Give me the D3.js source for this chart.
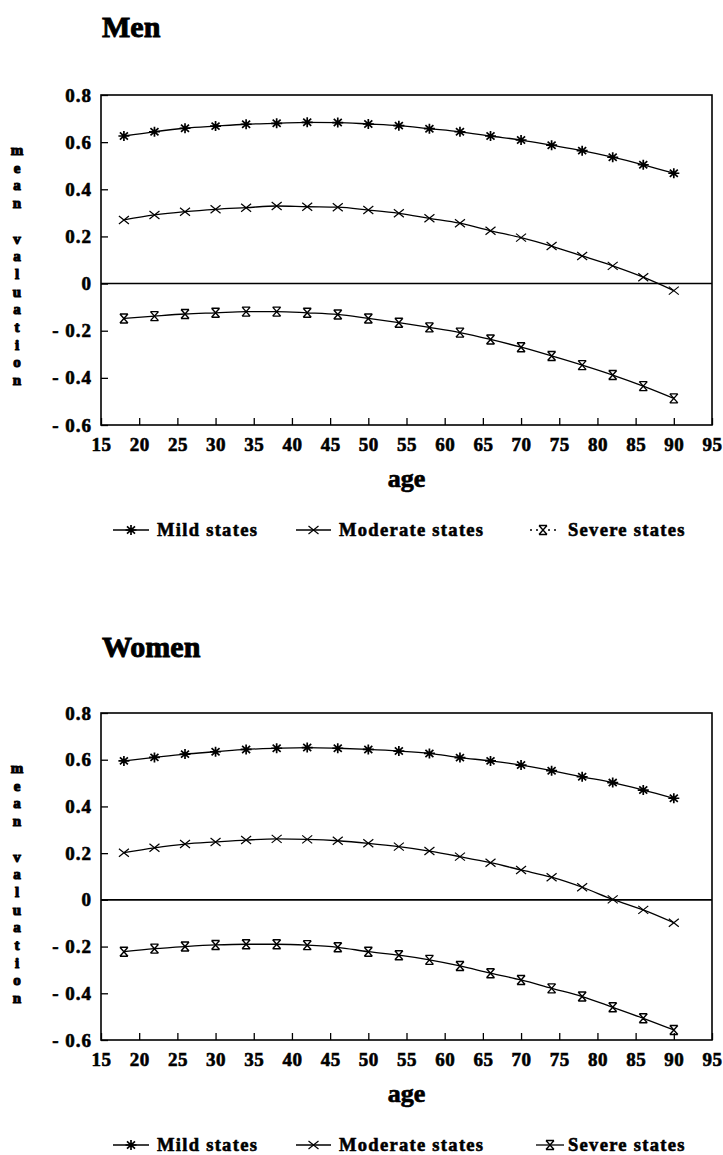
<!DOCTYPE html>
<html><head><meta charset="utf-8">
<script src="https://cdn.jsdelivr.net/npm/d3@7/dist/d3.min.js"></script>
<style>
html,body{margin:0;padding:0;background:#fff;}
svg{display:block;}
</style></head>
<body>
<svg id="chart" width="723" height="1155"></svg>
<script>
// ---- data ----
const ages = [18,22,26,30,34,38,42,46,50,54,58,62,66,70,74,78,82,86,90];
const menMild     = [0.626,0.644,0.659,0.668,0.676,0.680,0.684,0.683,0.677,0.670,0.657,0.644,0.626,0.609,0.587,0.564,0.536,0.504,0.468];
const menModerate = [0.270,0.291,0.305,0.315,0.322,0.329,0.326,0.324,0.312,0.298,0.277,0.256,0.224,0.195,0.159,0.117,0.075,0.027,-0.030];
const menSevere   = [-0.148,-0.138,-0.129,-0.124,-0.119,-0.119,-0.124,-0.131,-0.148,-0.166,-0.186,-0.208,-0.237,-0.270,-0.307,-0.346,-0.388,-0.435,-0.487];
const womenMild     = [0.595,0.610,0.624,0.634,0.644,0.649,0.652,0.649,0.644,0.637,0.627,0.609,0.595,0.577,0.553,0.527,0.502,0.470,0.435];
const womenModerate = [0.202,0.223,0.239,0.248,0.256,0.261,0.259,0.253,0.242,0.228,0.209,0.185,0.159,0.128,0.097,0.054,0.002,-0.043,-0.098];
const womenSevere   = [-0.222,-0.209,-0.200,-0.193,-0.190,-0.190,-0.194,-0.203,-0.222,-0.237,-0.257,-0.283,-0.314,-0.343,-0.379,-0.414,-0.460,-0.507,-0.557];
const xTickValues = [15,20,25,30,35,40,45,50,55,60,65,70,75,80,85,90,95];
const yTickValues = [0.8,0.6,0.4,0.2,0,-0.2,-0.4,-0.6];
const yTickLabels = ["0.8","0.6","0.4","0.2","0","- 0.2","- 0.4","- 0.6"];
const seriesNames = ["Mild states","Moderate states","Severe states"];
const yAxisTitle = "mean valuation";
const xAxisTitle = "age";
const panelTitles = ["Men","Women"];

const svg = d3.select("#chart");
const FONT = "'Liberation Serif','Times New Roman',serif";

const markerPaths = {
  mild: "M-5.5,0H5.5M0,-5V5M-4,-3.6L4,3.6M-4,3.6L4,-3.6",
  moderate: "M-5,-4L5,4M-5,4L5,-4",
  severe: "M-4,-4.5H4M-4,4.5H4M-4,-4.5L4,4.5M4,-4.5L-4,4.5"
};
const markerWidths = {mild:1.7, moderate:1.2, severe:1.4};

function heavy(sel, w){
  return sel.attr("font-family",FONT).attr("font-weight","bold")
    .attr("fill","#000").attr("stroke","#000").attr("stroke-width",w)
    .attr("paint-order","stroke");
}

function panel(cfg){
  const x = d3.scaleLinear().domain([15,95]).range([101,712]);
  const y = d3.scaleLinear().domain([-0.6,0.8]).range([cfg.yBottom, cfg.yTop]);
  const g = svg.append("g");

  // title
  heavy(g.append("text").attr("x",102).attr("y",cfg.titleY)
    .attr("font-size",30).text(cfg.title), 0.9);

  // x axis
  const xa = g.append("g").attr("transform",`translate(0,${cfg.yBottom})`)
    .call(d3.axisBottom(x).tickValues(xTickValues).tickSize(-7).tickPadding(13));
  xa.select(".domain").remove();
  xa.selectAll("line").attr("stroke","#000").attr("stroke-width",1.3);
  heavy(xa.selectAll("text").attr("font-size",19).attr("letter-spacing","0.5px"), 0.6);

  // y axis
  const ya = g.append("g").attr("transform","translate(101,0)")
    .call(d3.axisLeft(y).tickValues(yTickValues).tickSize(-7).tickPadding(9)
      .tickFormat((d,i)=>yTickLabels[i]));
  ya.select(".domain").remove();
  ya.selectAll("line").attr("stroke","#000").attr("stroke-width",1.3);
  heavy(ya.selectAll("text").attr("font-size",19).attr("letter-spacing","1px"), 0.6);

  // frame
  g.append("rect").attr("x",x(15)).attr("y",y(0.8))
    .attr("width",x(95)-x(15)).attr("height",y(-0.6)-y(0.8))
    .attr("fill","none").attr("stroke","#000").attr("stroke-width",1.6);
  // zero line
  g.append("line").attr("x1",x(15)).attr("x2",x(95)).attr("y1",y(0)).attr("y2",y(0))
    .attr("stroke","#000").attr("stroke-width",1.6);

  // axis titles
  heavy(g.append("text").attr("x",(x(15)+x(95))/2).attr("y",cfg.yBottom+62)
    .attr("text-anchor","middle").attr("font-size",26).text(xAxisTitle), 0.7);
  const chars = yAxisTitle.split("");
  heavy(g.append("g").selectAll("text").data(chars).join("text")
    .attr("x",17).attr("y",(d,i)=>y(0.8)+60+i*17.7)
    .attr("text-anchor","middle").attr("font-size",15).text(d=>d), 1.1);

  // series
  const line = d3.line().x((d,i)=>x(ages[i])).y(d=>y(d)).curve(d3.curveMonotoneX);
  cfg.series.forEach(s=>{
    g.append("path").datum(s.values).attr("d",line)
      .attr("fill","none").attr("stroke","#000").attr("stroke-width",1.3);
    g.append("g").selectAll("path").data(s.values).join("path")
      .attr("transform",(d,i)=>`translate(${x(ages[i])},${y(d)})`)
      .attr("d",markerPaths[s.kind]).attr("fill","none")
      .attr("stroke","#000").attr("stroke-width",markerWidths[s.kind]);
  });

  // legend
  const ly = cfg.legendY;
  const items = [
    {name:seriesNames[0],kind:"mild",x1:113,x2:149,tx:157,dash:null},
    {name:seriesNames[1],kind:"moderate",x1:296,x2:331,tx:339,dash:null},
    {name:seriesNames[2],kind:"severe",x1:cfg.sevX1,x2:cfg.sevX2,tx:568,dash:cfg.sevDash}
  ];
  const lg = g.append("g");
  items.forEach(it=>{
    lg.append("line").attr("x1",it.x1).attr("x2",it.x2).attr("y1",ly).attr("y2",ly)
      .attr("stroke","#000").attr("stroke-width",1.3)
      .attr("stroke-dasharray",it.dash);
    lg.append("path").attr("transform",`translate(${(it.x1+it.x2)/2},${ly})`)
      .attr("d",markerPaths[it.kind]).attr("fill","none").attr("stroke","#000")
      .attr("stroke-width",markerWidths[it.kind]);
    heavy(lg.append("text").attr("x",it.tx).attr("y",ly+6)
      .attr("font-size",18.5).attr("letter-spacing","1.3px").text(it.name), 0.6);
  });
}

panel({title:panelTitles[0], titleY:37, yTop:95, yBottom:425, legendY:530,
  sevX1:530, sevX2:556, sevDash:"2,4",
  series:[{values:menMild,kind:"mild"},{values:menModerate,kind:"moderate"},{values:menSevere,kind:"severe"}]});
panel({title:panelTitles[1], titleY:657, yTop:713, yBottom:1040, legendY:1145,
  sevX1:536, sevX2:564, sevDash:null,
  series:[{values:womenMild,kind:"mild"},{values:womenModerate,kind:"moderate"},{values:womenSevere,kind:"severe"}]});
</script>
</body></html>
